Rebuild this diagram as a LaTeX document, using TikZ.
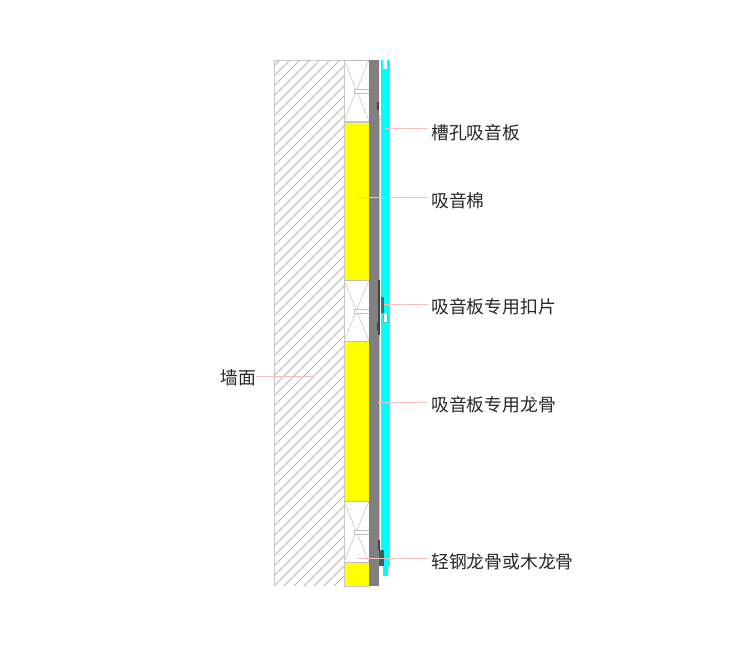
\documentclass[tikz,border=0pt]{standalone}
\usepackage{fontspec}
\setmainfont{Noto Sans CJK SC}
\definecolor{leader}{RGB}{250,190,190}
\definecolor{panel}{RGB}{0,255,255}
\definecolor{clipdark}{RGB}{60,70,70}
\definecolor{cottonfill}{RGB}{255,255,0}
\tikzset{
	labeltext/.style={anchor=west,inner sep=0pt,font=\fontsize{17.8pt}{18pt}\selectfont,text=black!85},
	leadline/.style={draw=leader,line width=0.7pt},
	woodline/.style={draw=black!25,line width=0.5pt}
}
\newcommand{\woodblock}[1]{
	\fill[white] (344,#1) rectangle (369,#1+61);
	\draw[woodline] (344,#1) rectangle (369,#1+61);
	\draw[woodline] (344,#1) -- (369,#1+61);
	\draw[woodline] (369,#1) -- (344,#1+61);
	\fill[white] (354,#1+29) rectangle (370,#1+33);
	\draw[woodline] (354,#1+29) rectangle (370,#1+33);
	\fill[black!60] (370,#1+27.5) rectangle (371,#1+34.5);
}
\begin{document}
\begin{tikzpicture}[x=1pt,y=-1pt]
	\useasboundingbox (0,0) rectangle (750,658);

	% wall
	\begin{scope}
		\clip (274,60) rectangle (344,586);
		\foreach \i in {-54,...,8}
			\draw[black!28,line width=0.9pt] (274+\i*10,586) -- ++(526,-526);
	\end{scope}
	\draw[black!22,line width=0.5pt] (274,586) -- (274,60) -- (344,60);

	% cotton and wood
	\foreach \ya/\yb in {122/280,341/501,562/586}
		\filldraw[fill=cottonfill,draw=black!22,line width=0.4pt] (344,\ya) rectangle (369,\yb);
	\woodblock{60}
	\woodblock{280}
	\woodblock{501}
	\draw[black!22,line width=0.5pt] (344,60) -- (344,586);

	% keel
	\fill[black!50] (369,60) rectangle (379,586);
	\fill[black!22] (379,115) rectangle (380.3,566);

	% panels
	\fill[panel] (380.5,60) rectangle (389,566);
	\draw[black!30,line width=0.4pt] (389.2,60) -- (389.2,566);
	\fill[white] (383,60) rectangle (387,69);
	\fill[white] (383.5,313) rectangle (386.5,322);
	\draw[black!40,line width=0.4pt] (383,313) -- (383,322) -- (387,322) -- (387,313);
	\fill[panel] (383.5,566) rectangle (386.5,575);
	\draw[black!30,line width=0.4pt] (383.2,566) -- (383.2,575) -- (386.8,575) -- (386.8,566);

	% clips
	\fill[clipdark] (377,102) rectangle (379,110);
	\fill[clipdark] (378,280) rectangle (380,335);
	\fill[clipdark] (377,322) rectangle (379,330);
	\fill[clipdark!75!panel] (381,297) rectangle (383.5,313);
	\fill[clipdark] (377.5,540) rectangle (380,550);
	\fill[clipdark!85!panel] (379,550) rectangle (383.5,566);

	% labels
	\node[labeltext] (slotboard) at (431,133) {槽孔吸音板};
	\node[labeltext] (cotton) at (431,201) {吸音棉};
	\node[labeltext] (clipping) at (431,307) {吸音板专用扣片};
	\node[labeltext] (keelbar) at (431,405) {吸音板专用龙骨};
	\node[labeltext] (steel) at (431,562) {轻钢龙骨或木龙骨};
	\node[labeltext,anchor=east] (wall) at (256,378) {墙面};

	% leaders
	\coordinate (slotboardA) at (385,128);
	\coordinate (slotboardB) at (428,128);
	\coordinate (cottonA) at (357,197);
	\coordinate (cottonB) at (428,197);
	\coordinate (clippingA) at (384,304);
	\coordinate (clippingB) at (428,304);
	\coordinate (keelbarA) at (378,402);
	\coordinate (keelbarB) at (428,402);
	\coordinate (steelA) at (357,558);
	\coordinate (steelB) at (428,558);
	\coordinate (wallA) at (312,376);
	\coordinate (wallB) at (256,376);
	\foreach \n in {slotboard,cotton,clipping,keelbar,steel,wall}
		\draw[leadline] (\n A) -- (\n B);
\end{tikzpicture}
\end{document}
